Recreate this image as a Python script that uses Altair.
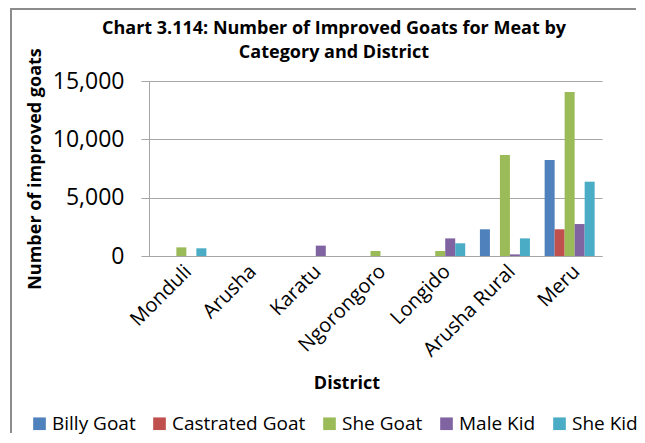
import altair as alt
import pandas as pd

districts = ["Monduli", "Arusha", "Karatu", "Ngorongoro", "Longido", "Arusha Rural", "Meru"]
categories = ["Billy Goat", "Castrated Goat", "She Goat", "Male Kid", "She Kid"]
colors = ["#4F81BD", "#C0504D", "#9BBB59", "#8064A2", "#4BACC6"]

billy_goat = [0, 0, 0, 0, 0, 2290, 8230]
castrated_goat = [0, 0, 0, 0, 0, 0, 2290]
she_goat = [740, 0, 0, 430, 430, 8660, 14060]
male_kid = [0, 0, 890, 0, 1510, 140, 2740]
she_kid = [660, 0, 0, 0, 1090, 1510, 6370]

series = [billy_goat, castrated_goat, she_goat, male_kid, she_kid]
rows = []
for cat, vals in zip(categories, series):
    for d, v in zip(districts, vals):
        rows.append({"District": d, "Category": cat, "Value": v})
df = pd.DataFrame(rows)

FONT = "Open Sans"
GRID = "#A6A6A6"

bars = alt.Chart(df).mark_bar().encode(
    x=alt.X("District:N", sort=districts,
            scale=alt.Scale(paddingInner=0.227, paddingOuter=0.1135),
            axis=alt.Axis(title="District", labelAngle=-45, labelAlign="right",
                          labelBaseline="top", labelPadding=5, ticks=False,
                          labelFontSize=20, labelFont=FONT, labelColor="#000000",
                          domainColor=GRID, titleFont=FONT, titleFontSize=18,
                          titleFontWeight="bold", titleColor="#000000",
                          titleX=197.5, titleY=132, titleBaseline="alphabetic",
                          titleAnchor="start", titleAlign="center")),
    xOffset=alt.XOffset("Category:N", sort=categories, scale=alt.Scale(paddingInner=0, paddingOuter=0)),
    y=alt.Y("Value:Q", scale=alt.Scale(domain=[0, 15000], nice=False),
            axis=alt.Axis(title="Number of improved goats", values=[0, 5000, 10000, 15000],
                          format=",.0f", tickSize=8, tickColor=GRID, domainColor=GRID,
                          gridColor=GRID, gridWidth=1.2, labelPadding=17,
                          labelFontSize=23, labelFont=FONT, labelColor="#000000",
                          titleFont=FONT, titleFontSize=18, titleFontWeight="bold",
                          titleColor="#000000", titleX=-114, titleY=87.5,
                          titleAngle=-90, titleBaseline="middle", titleAlign="center",
                          titleAnchor="start")),
    color=alt.Color("Category:N", sort=categories,
                    scale=alt.Scale(domain=categories, range=colors),
                    legend=alt.Legend(title=None, orient="none", direction="horizontal",
                                      legendX=-119, legendY=333, symbolType="square",
                                      symbolSize=160, symbolStrokeWidth=0,
                                      labelFont=FONT, labelFontSize=19,
                                      labelColor="#000000", labelOffset=3,
                                      columnPadding=14, labelLimit=300)),
)

one = pd.DataFrame({"frame": [0]})
frame_top = alt.Chart(one).mark_rule(stroke="#8C8C8C", strokeWidth=2).encode(
    x=alt.value(-139), x2=alt.value(487), y=alt.value(-72)
)
frame_left = alt.Chart(one).mark_rule(stroke="#8C8C8C", strokeWidth=2).encode(
    x=alt.value(-138), y=alt.value(-73), y2=alt.value(352)
)

chart = alt.layer(frame_top, frame_left, bars).properties(
    width=453,
    height=175,
    title=alt.TitleParams(
        text=["Chart 3.114: Number of Improved Goats for Meat by", "Category and District"],
        font=FONT, fontSize=18, fontWeight="bold", color="#000000",
        anchor="middle", dx=-41.5, offset=-55, lineHeight=24),
    autosize=alt.AutoSizeParams(type="none"),
    padding={"left": 141, "top": 73, "right": 35, "bottom": 179},
).configure_view(stroke=None).configure_axis(grid=True).configure_axisX(grid=False)

chart.save("out.html", embed_options={"renderer": "svg", "actions": False})
